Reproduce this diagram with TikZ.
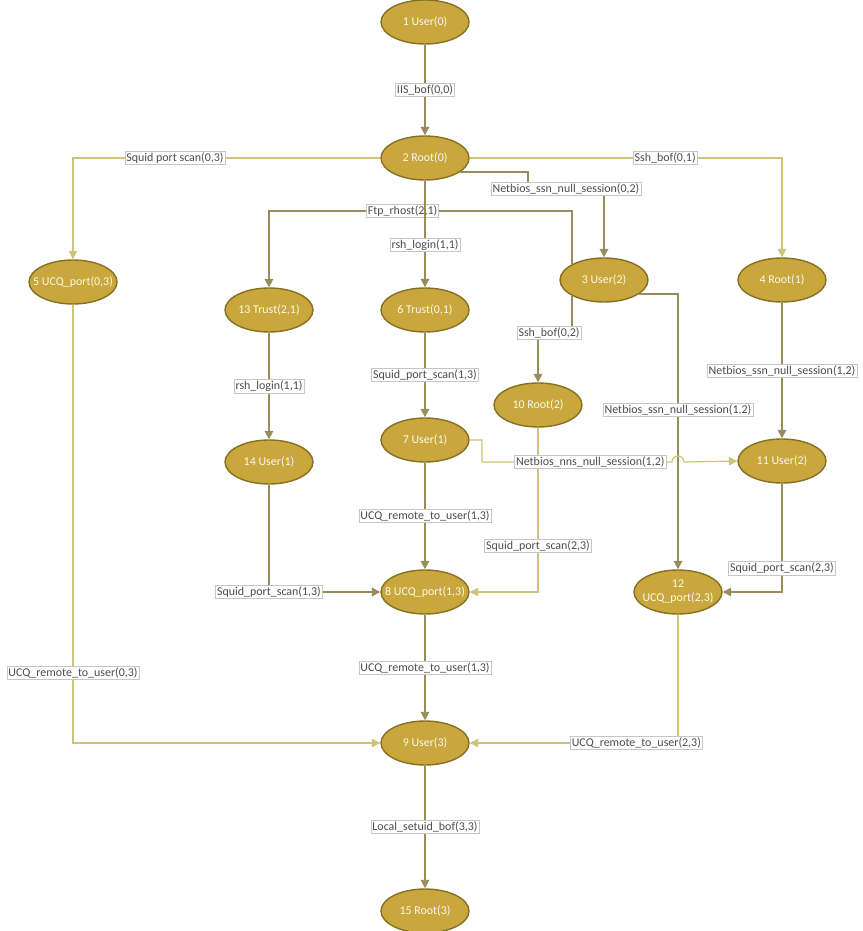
\documentclass[tikz,border=0pt]{standalone}
\usepackage{fontspec}
\setmainfont{Carlito}
\usetikzlibrary{shapes.geometric,arrows.meta}
\definecolor{gold}{HTML}{C9A73C}
\definecolor{goldedge}{HTML}{857023}
\definecolor{olive}{HTML}{978C5C}
\definecolor{paleolive}{HTML}{CFC27A}
\tikzset{
  state/.style={ellipse, draw=goldedge, line width=0.8pt, fill=gold, text=white!92!gold,
    minimum width=17.6mm, minimum height=8.8mm, inner sep=0pt, font=\fontsize{6.8}{7.6}\selectfont},
  lbl/.style={draw=gray!45, line width=0.3pt, fill=white, text=black!70, inner sep=0.8pt,
    font=\fontsize{6.8}{8}\selectfont},
  edge/.style={->, draw=olive, line width=1.1pt},
  thinedge/.style={->, draw=paleolive, line width=0.7pt},
}
\newcommand{\st}[1]{\makebox[0pt]{#1}}
\begin{document}
\begin{tikzpicture}[x=0.2mm, y=-0.2mm, >={Triangle[length=1.7mm,width=1.7mm]}]
        \useasboundingbox (0,0) rectangle (862,931);
        % attack graph states
        \node[state] (user1) at (425,22) {\st{1 User(0)}};
        \node[state] (root2) at (425,158) {\st{2 Root(0)}};
        \node[state] (port5) at (73,282) {\st{5 UCQ\_port(0,3)}};
        \node[state] (user3) at (604,280) {\st{3 User(2)}};
        \node[state] (root4) at (782,280) {\st{4 Root(1)}};
        \node[state] (trust13) at (269,310) {\st{13 Trust(2,1)}};
        \node[state] (trust6) at (425,310) {\st{6 Trust(0,1)}};
        \node[state] (root10) at (538,405) {\st{10 Root(2)}};
        \node[state] (user7) at (425,440) {\st{7 User(1)}};
        \node[state] (user14) at (269,462) {\st{14 User(1)}};
        \node[state] (user11) at (782,461) {\st{11 User(2)}};
        \node[state] (port8) at (425,592) {\st{8 UCQ\_port(1,3)}};
        \node[state] (port12) at (678,592) {\st{\shortstack{12\\UCQ\_port(2,3)}}};
        \node[state] (user9) at (425,743) {\st{9 User(3)}};
        \node[state] (root15) at (425,911) {\st{15 Root(3)}};

        % exploits
        \draw[edge] (user1) -- node[lbl] {IIS\_bof(0,0)} (root2);
        \draw[thinedge] (root2.west) -| node[lbl, pos=0.334] {Squid port scan(0,3)} (port5.north);
        \draw[thinedge] (root2.east) -| node[lbl, pos=0.313] {Ssh\_bof(0,1)} (root4.north);
        \draw[edge] (root2.-22) -| (528,189) -- node[lbl] {Netbios\_ssn\_null\_session(0,2)} (604,189) -- (user3.north);
        \draw[edge] (user3.153) -- ++(0,-53) -| node[lbl, pos=0.28] {Ftp\_rhost(2,1)} (trust13.north);
        \draw[edge] (root2) -- node[lbl, pos=0.6] {rsh\_login(1,1)} (trust6);
        \draw[edge] (user3.-153) |- node[lbl, pos=0.84] {Ssh\_bof(0,2)} (538,333) -- (root10.north);
        \draw[edge] (trust13) -- node[lbl] {rsh\_login(1,1)} (user14);
        \draw[edge] (trust6) -- node[lbl] {Squid\_port\_scan(1,3)} (user7);
        \draw[edge] (root4) -- node[lbl] {Netbios\_ssn\_null\_session(1,2)} (user11);
        \draw[edge] (user3.-22) -| node[lbl, pos=0.71] {Netbios\_ssn\_null\_session(1,2)} (port12.north);
        \draw[thinedge] (root10.south) |- node[lbl, pos=0.36] {Squid\_port\_scan(2,3)} (port8.east);
        \draw[thinedge] (user7.east) -| (482,462) -- node[lbl, pos=0.57] {Netbios\_nns\_null\_session(1,2)} (672,462)
            arc (180:360:6) -- (user11.west);
        \draw[edge] (user7) -- node[lbl] {UCQ\_remote\_to\_user(1,3)} (port8);
        \draw[edge] (user14.south) |- node[lbl] {Squid\_port\_scan(1,3)} (port8.west);
        \draw[edge] (user11.south) |- node[lbl, pos=0.39] {Squid\_port\_scan(2,3)} (port12.east);
        \draw[edge] (port8) -- node[lbl] {UCQ\_remote\_to\_user(1,3)} (user9);
        \draw[thinedge] (port5.south) |- node[lbl, pos=0.42] {UCQ\_remote\_to\_user(0,3)} (user9.west);
        \draw[thinedge] (port12.south) |- node[lbl, pos=0.6] {UCQ\_remote\_to\_user(2,3)} (user9.east);
        \draw[edge] (user9) -- node[lbl] {Local\_setuid\_bof(3,3)} (root15);
\end{tikzpicture}
\end{document}
